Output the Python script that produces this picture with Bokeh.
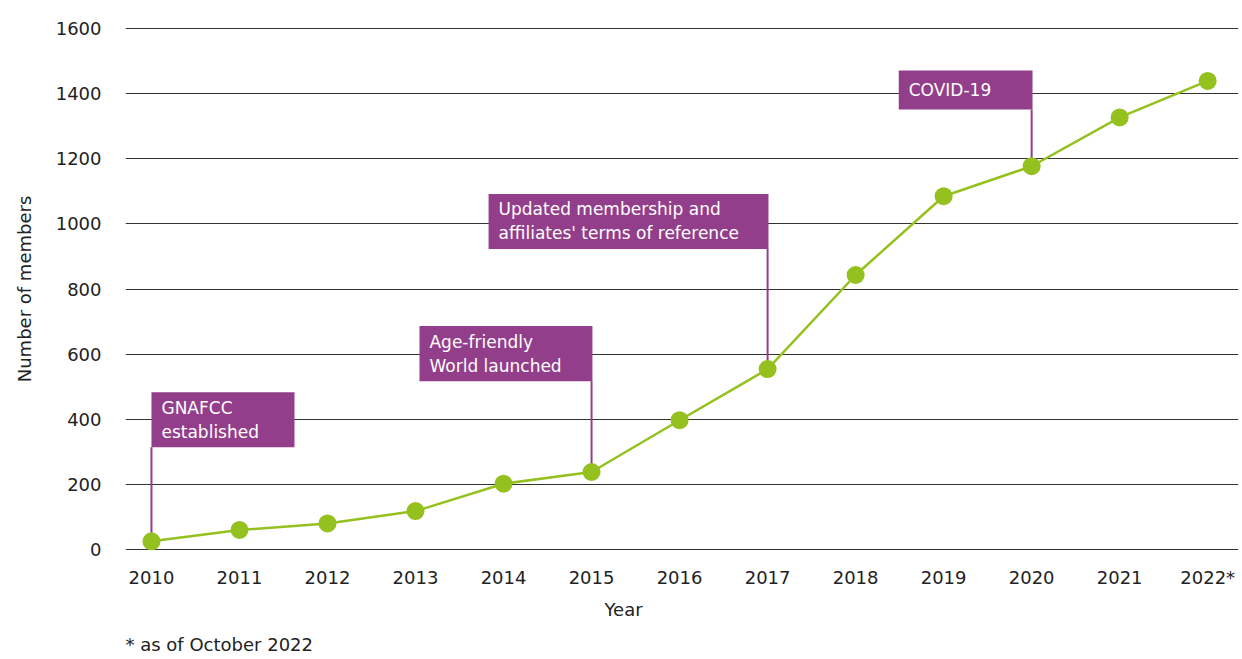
from bokeh.plotting import figure
from bokeh.models import Range1d, FixedTicker, Title
from bokeh.embed import file_html
from bokeh.resources import INLINE
from bokeh.core.properties import value

# ---- data ----
years = [2010, 2011, 2012, 2013, 2014, 2015, 2016, 2017, 2018, 2019, 2020, 2021, 2022]
members = [25, 60, 80, 118, 202, 238, 397, 554, 843, 1085, 1177, 1327, 1439]
year_labels = ["2010", "2011", "2012", "2013", "2014", "2015", "2016", "2017",
               "2018", "2019", "2020", "2021", "2022*"]
y_ticks = [0, 200, 400, 600, 800, 1000, 1200, 1400, 1600]

# ---- annotations (events) ----
ann_years = [2010, 2015, 2017, 2020]
ann_texts = ["GNAFCC\nestablished",
             "Age-friendly\nWorld launched",
             "Updated membership and\naffiliates' terms of reference",
             "COVID-19"]
# annotation box layout (data units)
box_left = [2010.0, 2013.045, 2013.83, 2018.49]
box_right = [2011.625, 2015.01, 2017.01, 2020.01]
box_top = [483, 686, 1092, 1471]
box_bottom = [314, 517, 923, 1351]

FONT = "DejaVu Sans"
GREEN = "#95C11F"
PURPLE = "#933E8B"
TXT = "#222222"

p = figure(width=1242, height=659,
           x_range=Range1d(2009.705, 2022.35), y_range=Range1d(-9.2, 1609.2),
           min_border_left=125, min_border_right=4, min_border_top=25, min_border_bottom=107,
           output_backend="svg", toolbar_location=None)
p.outline_line_color = None
p.background_fill_color = "white"
p.border_fill_color = "white"

p.xgrid.grid_line_color = None
p.ygrid.grid_line_color = "#333333"
p.ygrid.grid_line_width = 1

# axes
p.yaxis.ticker = FixedTicker(ticks=y_ticks)
p.xaxis.ticker = FixedTicker(ticks=years)
p.xaxis.major_label_overrides = {y: lab for y, lab in zip(years, year_labels)}
for ax in (p.xaxis, p.yaxis):
    ax.axis_line_color = None
    ax.major_tick_line_color = None
    ax.minor_tick_line_color = None
    ax.major_label_text_font = FONT
    ax.major_label_text_font_size = "18px"
    ax.major_label_text_color = TXT
p.yaxis.major_label_standoff = 18
p.xaxis.major_label_standoff = 8
p.yaxis.axis_label = "Number of members"
p.yaxis.axis_label_standoff = 18
p.yaxis.axis_label_text_font = FONT
p.yaxis.axis_label_text_font_size = "18px"
p.yaxis.axis_label_text_font_style = "normal"
p.yaxis.axis_label_text_color = TXT

# stems from annotation boxes to data points
stem_end = [members[years.index(y)] for y in ann_years]
p.segment(x0=ann_years, y0=box_bottom, x1=ann_years, y1=stem_end,
          line_color=PURPLE, line_width=2)
p.quad(left=box_left, right=box_right, top=box_top, bottom=box_bottom,
       fill_color=PURPLE, line_color=None)
p.text(x=box_left, y=[(t + b) / 2 for t, b in zip(box_top, box_bottom)], text=ann_texts,
       x_offset=10, text_align="left", text_baseline="middle",
       text_color="white", text_font=value(FONT), text_font_size="17px",
       text_line_height=1.2)

# series
p.line(years, members, line_color=GREEN, line_width=2.5)
p.scatter(years, members, size=18, fill_color=GREEN, line_color=None)

# x-axis title and footnote
p.add_layout(Title(text="Year", align="left", offset=479, text_font=FONT,
                   text_font_size="18px", text_font_style="normal", text_color=TXT,
                   standoff=13), "below")
p.add_layout(Title(text="* as of October 2022", align="left", offset=0, text_font=FONT,
                   text_font_size="18px", text_font_style="normal", text_color=TXT,
                   standoff=10), "below")

open("out.html", "w").write(file_html(p, INLINE))
